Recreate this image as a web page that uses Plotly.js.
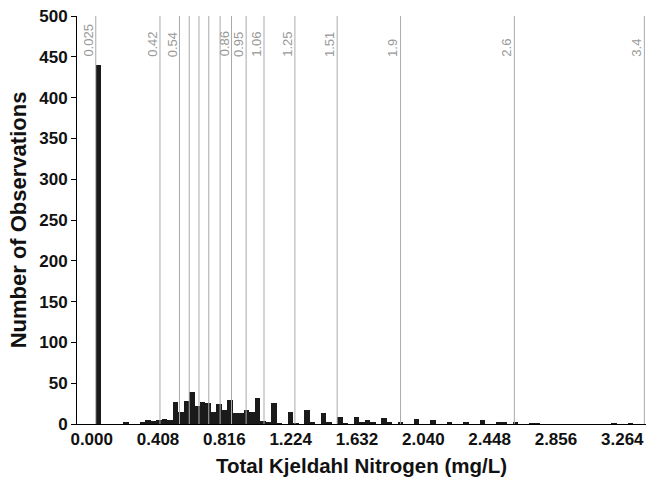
<!DOCTYPE html>
<html>
<head>
<meta charset="utf-8">
<script src="https://cdn.plot.ly/plotly-3.0.1.min.js"></script>
<style>html,body{margin:0;padding:0;background:#fff}#chart{width:646px;height:485px}</style>
</head>
<body>
<div id="chart"></div>
<script>
// Histogram bins: start value and bin width (mg/L)
var binStart = 0.025;
var binWidth = 0.03375;
// Counts per bin
var counts = [
  440, 0, 0, 0, 0, 2, 0, 0, 3, 5,
  4, 5, 6, 5, 27, 15, 28, 39, 22, 27,
  26, 15, 24, 17, 30, 13, 14, 17, 15, 32,
  4, 3, 26, 1, 0, 15, 1, 0, 17, 2,
  0, 13, 2, 0, 8, 1, 0, 9, 2, 5,
  2, 0, 7, 2, 0, 2, 0, 0, 6, 0,
  0, 5, 0, 0, 3, 0, 0, 3, 0, 0,
  5, 0, 0, 2, 2, 0, 3, 0, 0, 1,
  1, 0, 0, 0, 0, 0, 0, 0, 0, 0,
  0, 0, 0, 0, 1, 0, 0, 1, 0, 0
];
// Reference lines (percentiles) and their labels
var lineValues = [0.025, 0.42, 0.54, 0.6, 0.66, 0.72, 0.79, 0.86, 0.95, 1.06, 1.25, 1.51, 1.9, 2.6, 3.4];
var lineLabels = ['0.025', '0.42', '0.54', '', '', '', '', '0.86', '0.95', '1.06', '1.25', '1.51', '1.9', '2.6', '3.4'];
// Axis ticks
var xTicks = [0, 0.408, 0.816, 1.224, 1.632, 2.040, 2.448, 2.856, 3.264];
var xTickText = ['0.000', '0.408', '0.816', '1.224', '1.632', '2.040', '2.448', '2.856', '3.264'];
var yTicks = [0, 50, 100, 150, 200, 250, 300, 350, 400, 450, 500];

var centers = counts.map(function (c, i) { return binStart + (i + 0.5) * binWidth; });

var trace = {
  type: 'bar',
  x: centers,
  y: counts,
  width: binWidth,
  marker: { color: '#1a1a1a', line: { width: 0 } },
  hoverinfo: 'x+y'
};

var shapes = lineValues.map(function (v) {
  return { type: 'line', xref: 'x', yref: 'paper', x0: v, x1: v, y0: 0, y1: 1,
           line: { color: '#aaaaaa', width: 1 }, layer: 'above' };
});

var annotations = [];
lineValues.forEach(function (v, i) {
  if (!lineLabels[i]) return;
  annotations.push({
    x: v, xref: 'x', y: 0.895, yref: 'paper',
    text: lineLabels[i], showarrow: false, textangle: -90,
    xanchor: 'right', yanchor: 'bottom', xshift: 2,
    font: { family: 'Liberation Sans, Arial, sans-serif', size: 13, color: '#999999' }
  });
});

var layout = {
  width: 646, height: 485,
  margin: { l: 77, r: 0, t: 16, b: 61 },
  paper_bgcolor: '#ffffff', plot_bgcolor: '#ffffff',
  showlegend: false,
  bargap: 0,
  font: { family: 'Liberation Sans, Arial, sans-serif', color: '#000' },
  xaxis: {
    range: [-0.0905, 3.41],
    tickvals: xTicks, ticktext: xTickText,
    ticks: '', showgrid: false, zeroline: false,
    showline: true, linecolor: '#000', linewidth: 1,
    tickfont: { size: 17, weight: 'bold', color: '#111' },
    title: { text: 'Total Kjeldahl Nitrogen (mg/L)', font: { size: 20.5, weight: 'bold', color: '#111' }, standoff: 10 }
  },
  yaxis: {
    range: [0, 500],
    tickvals: yTicks,
    ticks: 'outside', ticklen: 5, tickcolor: '#000', tickwidth: 1,
    showgrid: false, zeroline: false,
    showline: true, linecolor: '#000', linewidth: 1,
    tickfont: { size: 17, weight: 'bold', color: '#111' },
    title: { text: 'Number of Observations', font: { size: 22, weight: 'bold', color: '#111' }, standoff: 6 }
  },
  shapes: shapes,
  annotations: annotations
};

Plotly.newPlot('chart', [trace], layout, { displayModeBar: false, staticPlot: true });
</script>
</body>
</html>
